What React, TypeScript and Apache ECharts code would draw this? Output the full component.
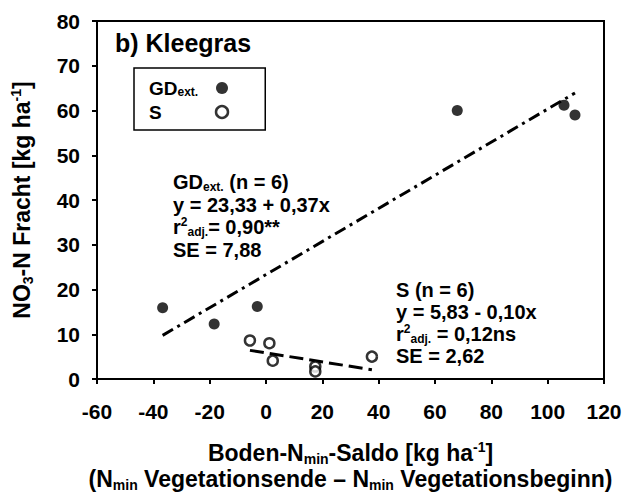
import React, { useEffect, useRef } from "react";
import * as echarts from "echarts";

// Data
const gdX = [-36.7, -18.4, -3.1, 67.9, 105.8, 109.7];
const gdY = [15.9, 12.3, 16.2, 60.0, 61.2, 59.0];
const sX = [-5.7, 1.2, 2.4, 17.5, 17.5, 37.6];
const sY = [8.6, 8.0, 4.1, 2.8, 1.7, 5.0];

// Regression coefficients (intercept, slope) as given in the chart
const gdFit = [23.33, 0.37];
const sFit = [5.83, -0.1];

const xTicks = { min: -60, max: 120, interval: 20 };
const yTicks = { min: 0, max: 80, interval: 10 };

const FONT = "'Liberation Sans', Arial, sans-serif";

function fitLine(xs: number[], fit: number[]) {
  const lo = Math.min(...xs);
  const hi = Math.max(...xs);
  return [
    [lo, fit[0] + fit[1] * lo],
    [hi, fit[0] + fit[1] * hi],
  ];
}

const annRich = (size: number, lh: number, align?: string) => {
  const al = align ? { align } : {};
  return {
    a: { fontSize: size, fontWeight: "bold", fontFamily: FONT, lineHeight: lh, color: "#000", ...al },
    sub: { fontSize: Math.round(size * 0.62), fontWeight: "bold", fontFamily: FONT, lineHeight: 9, verticalAlign: "bottom", color: "#000", ...al },
    sup: { fontSize: Math.round(size * 0.6), fontWeight: "bold", fontFamily: FONT, lineHeight: 9, verticalAlign: "top", color: "#000", ...al },
  };
};

export default function App() {
  const ref = useRef<HTMLDivElement>(null);
  useEffect(() => {
    document.body.style.margin = "0";
    if (!ref.current) return;
    const chart = echarts.init(ref.current, null, { renderer: "svg" });
    const option: any = {
      animation: false,
      backgroundColor: "#fff",
      title: {
        text: "b) Kleegras",
        left: 115,
        top: 30,
        padding: 0,
        textStyle: { fontSize: 25, fontWeight: "bold", fontFamily: FONT, color: "#000" },
      },
      legend: {
        orient: "vertical",
        left: 134,
        top: 68,
        align: "right",
        padding: [10, 36, 8, 15],
        itemGap: 4,
        itemWidth: 12,
        itemHeight: 12,
        borderColor: "#000",
        borderWidth: 1.5,
        borderRadius: 0,
        data: [
          { name: "GD_ext.", icon: "circle", itemStyle: { color: "#000", borderWidth: 0 } },
          { name: "S", icon: "circle", itemStyle: { color: "#fff", borderColor: "#000", borderWidth: 2.5 } },
        ],
        formatter: (n: string) => (n === "GD_ext." ? "{a|GD}{sub|ext.}" : "{a|S}"),
        textStyle: {
          width: 62,
          lineHeight: 20,
          rich: annRich(19, 20, "left"),
        },
      },
      grid: {
        left: 97,
        right: 21,
        top: 21,
        bottom: 111,
        show: true,
        borderColor: "#000",
        borderWidth: 2,
        backgroundColor: "transparent",
      },
      xAxis: {
        type: "value",
        min: xTicks.min,
        max: xTicks.max,
        interval: xTicks.interval,
        axisLine: { onZero: false, lineStyle: { color: "#000", width: 2 } },
        axisTick: { length: 5, lineStyle: { color: "#000", width: 2 } },
        splitLine: { show: false },
        axisLabel: { fontSize: 21, fontWeight: "bold", fontFamily: FONT, color: "#000", margin: 22 },
        name:
          "{a|Boden-N}{sub|min}{a|-Saldo [kg ha}{sup|-1}{a|]}\n{a|(N}{sub|min}{a| Vegetationsende – N}{sub|min}{a| Vegetationsbeginn)}",
        nameLocation: "middle",
        nameGap: 61,
        nameTextStyle: { rich: annRich(23, 26), lineHeight: 26, align: "center" },
      },
      yAxis: {
        type: "value",
        min: yTicks.min,
        max: yTicks.max,
        interval: yTicks.interval,
        axisLine: { onZero: false, lineStyle: { color: "#000", width: 2 } },
        axisTick: { length: 5, lineStyle: { color: "#000", width: 2 } },
        splitLine: { show: false },
        axisLabel: { fontSize: 21, fontWeight: "bold", fontFamily: FONT, color: "#000", margin: 17 },
        name: "{a|NO}{sub|3}{a|-N Fracht [kg ha}{sup|-1}{a|]}",
        nameLocation: "middle",
        nameRotate: 90,
        nameGap: 62,
        nameTextStyle: { rich: annRich(23, 26), lineHeight: 26 },
      },
      graphic: [
        {
          type: "text",
          left: 173,
          top: 172,
          style: {
            text: [
              "{a|GD}{sub|ext.}{a| (n = 6)}",
              "{a|y = 23,33 + 0,37x}",
              "{a|r}{sup|2}{sub|adj.}{a|= 0,90**}",
              "{a|SE = 7,88}",
            ].join("\n"),
            rich: annRich(20, 22.5),
            fill: "#000",
          },
        },
        {
          type: "text",
          left: 396,
          top: 280,
          style: {
            text: [
              "{a|S (n = 6)}",
              "{a|y = 5,83 - 0,10x}",
              "{a|r}{sup|2}{sub|adj.}{a| = 0,12ns}",
              "{a|SE = 2,62}",
            ].join("\n"),
            rich: annRich(20, 22),
            fill: "#000",
          },
        },
      ],
      series: [
        {
          name: "GD_ext.",
          type: "scatter",
          symbol: "circle",
          symbolSize: 11,
          itemStyle: { color: "#000" },
          data: gdX.map((x, i) => [x, gdY[i]]),
          z: 3,
        },
        {
          name: "S",
          type: "scatter",
          symbol: "circle",
          symbolSize: 10,
          itemStyle: { color: "#fff", borderColor: "#000", borderWidth: 2.5 },
          data: sX.map((x, i) => [x, sY[i]]),
          z: 3,
        },
        {
          name: "GD fit",
          type: "line",
          data: fitLine(gdX, gdFit),
          symbol: "none",
          lineStyle: { color: "#000", width: 3, type: [12, 5, 3, 5] },
          z: 2,
        },
        {
          name: "S fit",
          type: "line",
          data: fitLine(sX, sFit),
          symbol: "none",
          lineStyle: { color: "#000", width: 3, type: [14, 6] },
          z: 2,
        },
      ],
    };
    chart.setOption(option);
    return () => chart.dispose();
  }, []);
  return <div ref={ref} style={{ width: 625, height: 497 }} />;
}
